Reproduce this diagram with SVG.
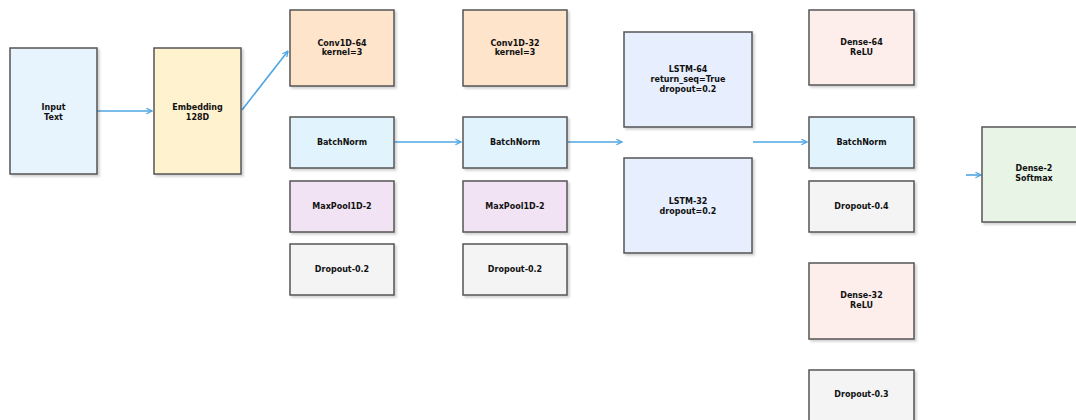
<svg xmlns="http://www.w3.org/2000/svg" width="1076" height="420" viewBox="0 0 1076 420">
  <style>
    .box { stroke: #555555; stroke-width: 1.5; filter: url(#shadow); }
    .lbl { font-family: "DejaVu Sans", "Liberation Sans", sans-serif; font-weight: bold; font-size: 8px; fill: #111111; text-anchor: middle; }
    .edge { stroke: #4ea6e3; stroke-width: 1.6; fill: none; marker-end: url(#arrow); }
    .input { fill: #e7f3fd; }
    .embed { fill: #fff2cf; }
    .conv { fill: #fde4cb; }
    .bn { fill: #e1f4fd; }
    .pool { fill: #f2e3f4; }
    .drop { fill: #f4f4f4; }
    .lstm { fill: #e7eefd; }
    .dense { fill: #fdeeec; }
    .out { fill: #e8f4e6; }
  </style>
  <defs>
    <filter id="shadow" x="-10%" y="-10%" width="125%" height="125%">
      <feDropShadow dx="2" dy="2" stdDeviation="1.2" flood-color="#000000" flood-opacity="0.18"/>
    </filter>
    <marker id="arrow" viewBox="0 0 10 10" refX="9" refY="5" markerWidth="7" markerHeight="7" markerUnits="userSpaceOnUse" orient="auto">
      <path d="M1,1 L9,5 L1,9" fill="none" stroke="#4ea6e3" stroke-width="1.8"/>
    </marker>
  </defs>
  <rect width="1076" height="420" fill="#ffffff"/>

  <g id="connectors">
    <line class="edge" x1="97" y1="111" x2="152" y2="111"/>
    <line class="edge" x1="242" y1="110" x2="288" y2="51"/>
    <line class="edge" x1="395" y1="142" x2="461" y2="142"/>
    <line class="edge" x1="568" y1="142" x2="622" y2="142"/>
    <line class="edge" x1="753" y1="142" x2="807" y2="142"/>
    <line class="edge" x1="966" y1="175" x2="981" y2="175"/>
  </g>

  <g id="input-text">
    <rect class="box input" x="10" y="48" width="87" height="126"/>
    <text class="lbl" x="53.5" y="109.7">Input</text>
    <text class="lbl" x="53.5" y="119.7">Text</text>
  </g>
  <g id="embedding">
    <rect class="box embed" x="154" y="48" width="87" height="126"/>
    <text class="lbl" x="197.5" y="109.7">Embedding</text>
    <text class="lbl" x="197.5" y="119.7">128D</text>
  </g>

  <g id="conv1d-64">
    <rect class="box conv" x="290" y="10" width="104" height="76"/>
    <text class="lbl" x="342" y="45.6">Conv1D-64</text>
    <text class="lbl" x="342" y="54.8">kernel=3</text>
  </g>
  <g id="batchnorm-1">
    <rect class="box bn" x="290" y="117" width="104" height="51"/>
    <text class="lbl" x="342" y="145.4">BatchNorm</text>
  </g>
  <g id="maxpool-1">
    <rect class="box pool" x="290" y="181" width="104" height="51"/>
    <text class="lbl" x="342" y="209.4">MaxPool1D-2</text>
  </g>
  <g id="dropout-1">
    <rect class="box drop" x="290" y="244" width="104" height="51"/>
    <text class="lbl" x="342" y="272.4">Dropout-0.2</text>
  </g>

  <g id="conv1d-32">
    <rect class="box conv" x="463" y="10" width="104" height="76"/>
    <text class="lbl" x="515" y="45.6">Conv1D-32</text>
    <text class="lbl" x="515" y="54.8">kernel=3</text>
  </g>
  <g id="batchnorm-2">
    <rect class="box bn" x="463" y="117" width="104" height="51"/>
    <text class="lbl" x="515" y="145.4">BatchNorm</text>
  </g>
  <g id="maxpool-2">
    <rect class="box pool" x="463" y="181" width="104" height="51"/>
    <text class="lbl" x="515" y="209.4">MaxPool1D-2</text>
  </g>
  <g id="dropout-2">
    <rect class="box drop" x="463" y="244" width="104" height="51"/>
    <text class="lbl" x="515" y="272.4">Dropout-0.2</text>
  </g>

  <g id="lstm-64">
    <rect class="box lstm" x="624" y="32" width="128" height="95"/>
    <text class="lbl" x="688" y="72.2">LSTM-64</text>
    <text class="lbl" x="688" y="82">return_seq=True</text>
    <text class="lbl" x="688" y="91.8">dropout=0.2</text>
  </g>
  <g id="lstm-32">
    <rect class="box lstm" x="624" y="158" width="128" height="95"/>
    <text class="lbl" x="688" y="204">LSTM-32</text>
    <text class="lbl" x="688" y="213.8">dropout=0.2</text>
  </g>

  <g id="dense-64">
    <rect class="box dense" x="809" y="10" width="105" height="75"/>
    <text class="lbl" x="861.5" y="45.2">Dense-64</text>
    <text class="lbl" x="861.5" y="55.4">ReLU</text>
  </g>
  <g id="batchnorm-3">
    <rect class="box bn" x="809" y="117" width="105" height="51"/>
    <text class="lbl" x="861.5" y="145.4">BatchNorm</text>
  </g>
  <g id="dropout-3">
    <rect class="box drop" x="809" y="181" width="105" height="51"/>
    <text class="lbl" x="861.5" y="209.4">Dropout-0.4</text>
  </g>
  <g id="dense-32">
    <rect class="box dense" x="809" y="263" width="105" height="76"/>
    <text class="lbl" x="861.5" y="298">Dense-32</text>
    <text class="lbl" x="861.5" y="308">ReLU</text>
  </g>
  <g id="dropout-4">
    <rect class="box drop" x="809" y="370" width="105" height="51"/>
    <text class="lbl" x="861.5" y="397.2">Dropout-0.3</text>
  </g>

  <g id="dense-2">
    <rect class="box out" x="982" y="127" width="104" height="95"/>
    <text class="lbl" x="1034" y="171.4">Dense-2</text>
    <text class="lbl" x="1034" y="181.2">Softmax</text>
  </g>
</svg>
